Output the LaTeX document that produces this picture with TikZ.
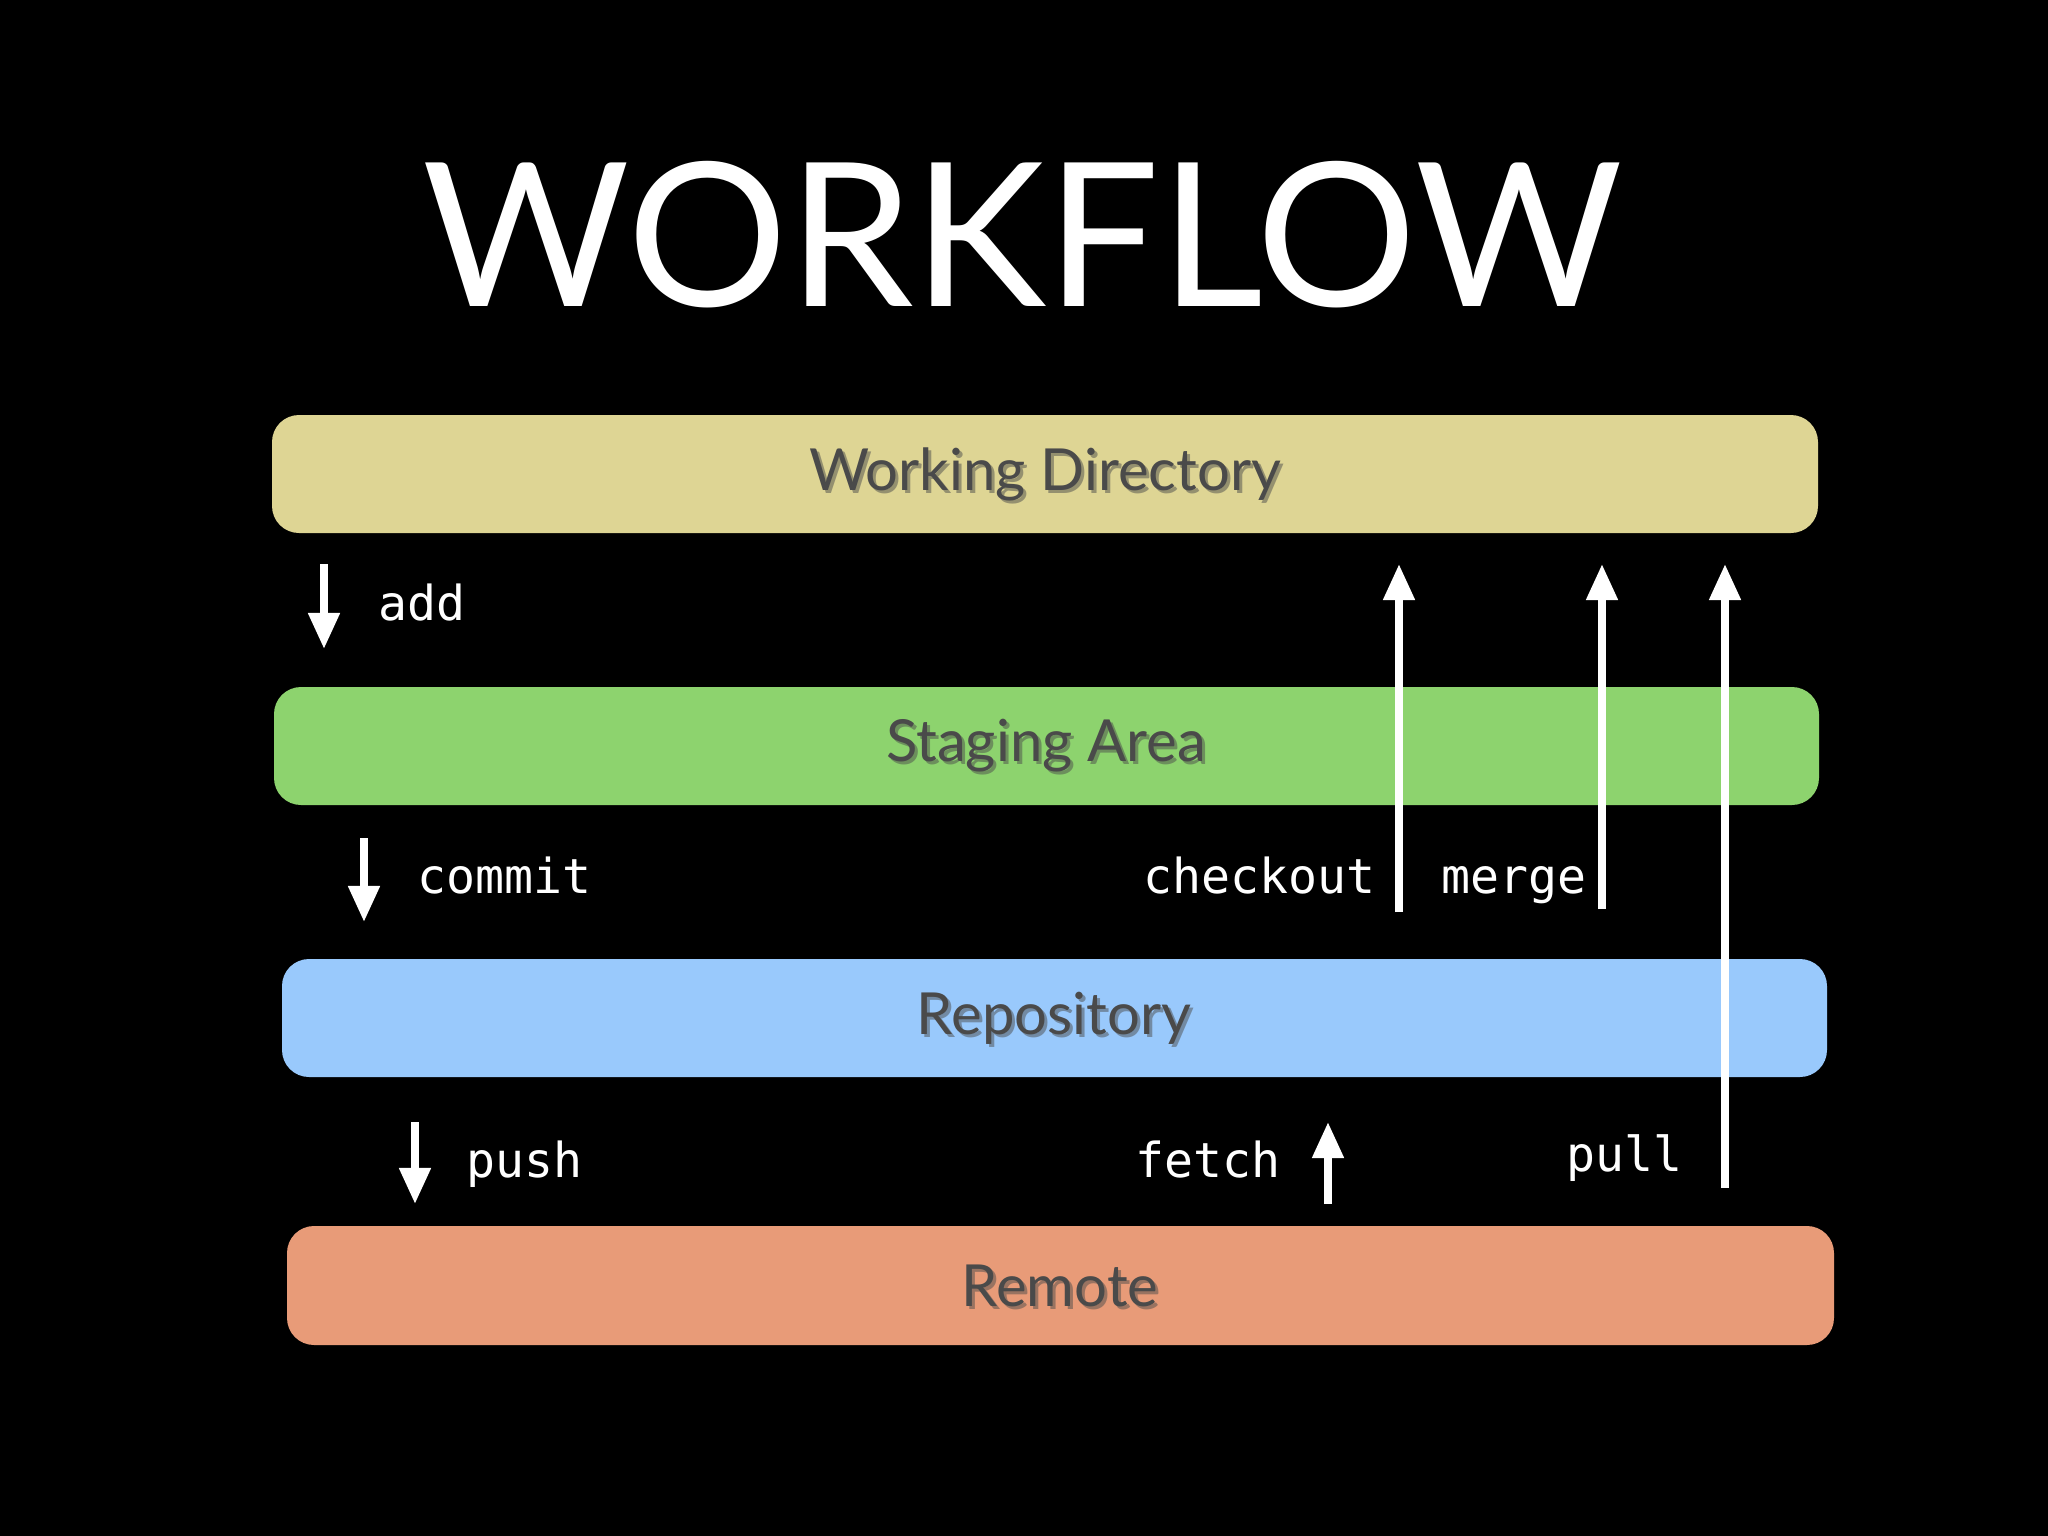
\documentclass[tikz,border=0pt]{standalone}
\usepackage{fontspec}
\setmainfont{Lato}
\newfontfamily\monof{DejaVu Sans Mono}
\usetikzlibrary{arrows.meta}
\definecolor{wdc}{HTML}{DED594}
\definecolor{sac}{HTML}{8DD36E}
\definecolor{rpc}{HTML}{99C9FC}
\definecolor{rmc}{HTML}{E89B78}
\definecolor{lbl}{HTML}{4A4A4A}
\begin{document}
\begin{tikzpicture}[x=0.01cm,y=-0.01cm,
  bar/.style={rounded corners=0.27cm,inner sep=0pt},
  blabel/.style={text=lbl,font=\fontsize{16.5}{20}\selectfont},
  shadowlbl/.style={text=black!70,font=\fontsize{16.5}{20}\selectfont,opacity=0.5},
  cmd/.style={text=white,font=\monof\fontsize{13.7}{16}\selectfont,inner sep=0pt},
  arr/.style={draw=white,line width=2.2pt,-{Triangle[length=0.36cm,width=0.3cm]}}]
\fill[black] (0,0) rectangle (2048,1536);
\useasboundingbox (0,0) rectangle (2048,1536);
\node[text=white,font=\fontsize{57}{60}\selectfont] (title) at (1022,235) {WORKFLOW};
% bars
\fill[wdc,bar] (272,415) rectangle (1818,533);
\fill[sac,bar] (274,687) rectangle (1819,805);
\fill[rpc,bar] (282,959) rectangle (1827,1077);
\fill[rmc,bar] (287,1226) rectangle (1834,1345);
\foreach \n/\x/\y/\t in {wdt/1045/474/Working Directory,sat/1046/746/Staging Area,rpt/1054/1018/Repository,rmt/1060/1286/Remote}{
  \node[shadowlbl] at (\x+3,\y+3) {\t};
  \node[blabel] (\n) at (\x,\y) {\t};
}
% coordinates
\coordinate (a1) at (324,564); \coordinate (a2) at (324,649);
\coordinate (c1) at (364,838); \coordinate (c2) at (364,922);
\coordinate (p1) at (415,1122); \coordinate (p2) at (415,1204);
\coordinate (f1) at (1328,1204); \coordinate (f2) at (1328,1122);
\coordinate (k1) at (1399,912); \coordinate (k2) at (1399,564);
\coordinate (m1) at (1602,909); \coordinate (m2) at (1602,564);
\coordinate (u1) at (1725,1188); \coordinate (u2) at (1725,564);
\draw[arr] (a1) -- (a2);
\draw[arr] (c1) -- (c2);
\draw[arr] (p1) -- (p2);
\draw[arr] (f1) -- (f2);
\draw[arr] (k1) -- (k2);
\draw[arr] (m1) -- (m2);
\draw[arr] (u1) -- (u2);
\node[cmd,anchor=base west] (add) at (378,620) {add};
\node[cmd,anchor=base west] (commit) at (417,893) {commit};
\node[cmd,anchor=base west] (push) at (466,1177) {push};
\node[cmd,anchor=base east] (fetch) at (1281,1177) {fetch};
\node[cmd,anchor=base east] (checkout) at (1376,893) {checkout};
\node[cmd,anchor=base west] (merge) at (1441,893) {merge};
\node[cmd,anchor=base west] (pull) at (1566,1171) {pull};
\end{tikzpicture}
\end{document}
